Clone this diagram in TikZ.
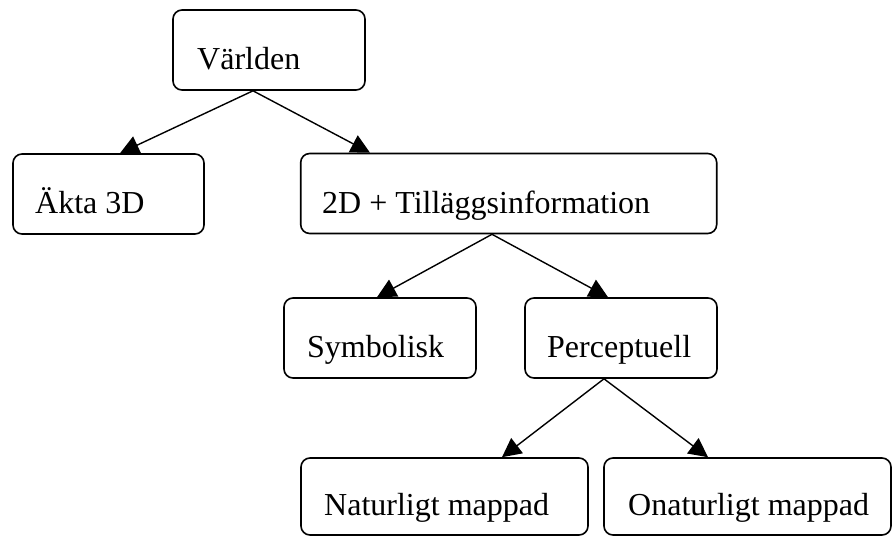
\documentclass[tikz,border=0pt]{standalone}
\usepackage{fontspec}
\setmainfont{Liberation Serif}
\usetikzlibrary{arrows.meta}
\begin{document}
\begin{tikzpicture}[x=1pt,y=-1pt,
  box/.style={draw=black,line width=1.6pt,rounded corners=9pt,inner sep=0pt,minimum height=80pt},
  lbl/.style={anchor=base west,inner sep=0pt,font=\fontsize{32}{38}\selectfont},
  conn/.style={line width=1.4pt,-{Triangle[length=19pt,width=19pt]}}]
\useasboundingbox (0,0) rectangle (892,536);
% boxes
\node[box,minimum width=192pt] (W) at (269,50) {};
\node[box,minimum width=191pt] (A) at (108.5,194) {};
\node[box,minimum width=416pt] (T) at (508.7,193.5) {};
\node[box,minimum width=192pt] (S) at (380,338) {};
\node[box,minimum width=192pt] (P) at (621,338) {};
\node[box,minimum width=287pt,minimum height=77pt] (N) at (444.5,496.5) {};
\node[box,minimum width=287pt,minimum height=77pt] (O) at (747.5,496.5) {};
% texts
\node[lbl] (tW) at (197,69) {Världen};
\node[lbl] (tA) at (35,213) {Äkta 3D};
\node[lbl] (tT) at (322,213) {2D + Tilläggsinformation};
\node[lbl] (tS) at (307,357) {Symbolisk};
\node[lbl] (tP) at (547,357) {Perceptuell};
\node[lbl] (tN) at (324,515) {Naturligt mappad};
\node[lbl] (tO) at (628,515) {Onaturligt mappad};
% connectors
\draw[conn] ([xshift=-16pt]W.south) -- ([xshift=11.5pt]A.north);
\draw[conn] ([xshift=-16pt]W.south) -- ([xshift=-138.7pt]T.north);
\draw[conn] ([xshift=-16.7pt]T.south) -- ([xshift=-3pt]S.north);
\draw[conn] ([xshift=-16.7pt]T.south) -- ([xshift=-13pt]P.north);
\draw[conn] ([xshift=-17pt]P.south) -- ([xshift=57.5pt]N.north);
\draw[conn] ([xshift=-17pt]P.south) -- ([xshift=-39.5pt]O.north);
\end{tikzpicture}
\end{document}
